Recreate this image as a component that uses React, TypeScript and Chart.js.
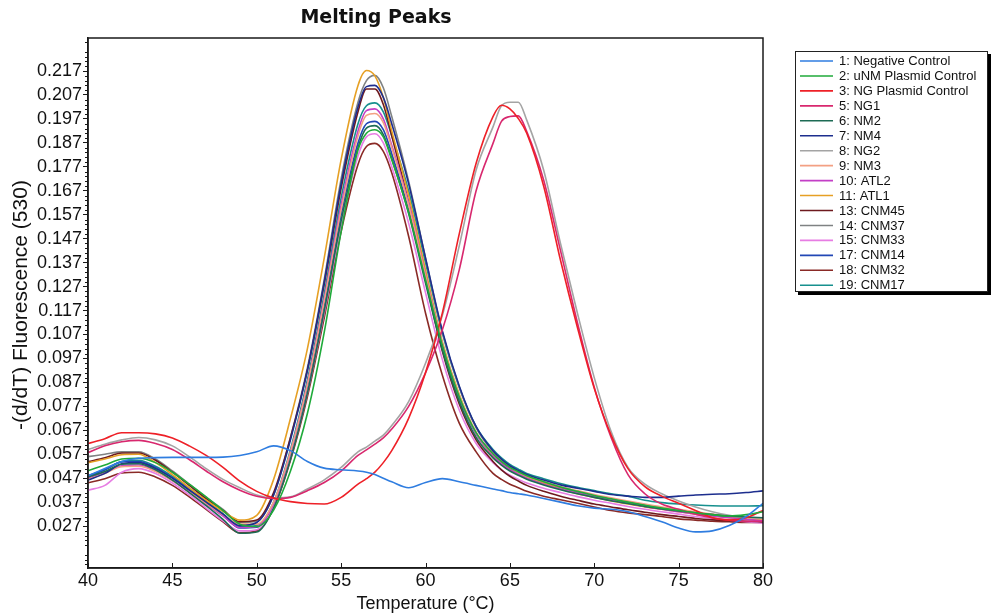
import React, { useEffect, useRef } from "react";
import { Chart, registerables } from "chart.js";
Chart.register(...registerables);

const TEMPS = [40, 41, 42, 43, 44, 45, 46, 47, 48, 49, 50, 51, 52, 53, 54, 55, 56, 56.5, 57, 57.5, 58, 59, 60, 61, 62, 63, 64, 64.5, 65, 65.5, 66, 67, 68, 69, 70, 71, 72, 73, 74, 75, 76, 77, 78, 79, 80];
const X_TICKS = [40, 45, 50, 55, 60, 65, 70, 75, 80];
const Y_TICKS = [0.027, 0.037, 0.047, 0.057, 0.067, 0.077, 0.087, 0.097, 0.107, 0.117, 0.127, 0.137, 0.147, 0.157, 0.167, 0.177, 0.187, 0.197, 0.207, 0.217];

const NEG_CONTROL = [0.0480, 0.0510, 0.0540, 0.0553, 0.0556, 0.0557, 0.0557, 0.0557, 0.0558, 0.0565,
  0.0580, 0.0605, 0.0585, 0.0540, 0.0512, 0.0505, 0.0500, 0.0495, 0.0485, 0.0470,
  0.0455, 0.0430, 0.0452, 0.0468, 0.0455, 0.0440, 0.0425, 0.0418, 0.0410, 0.0405,
  0.0400, 0.0385, 0.0370, 0.0355, 0.0345, 0.0340, 0.0330, 0.0310, 0.0288, 0.0262,
  0.0246, 0.0250, 0.0272, 0.0310, 0.0365];
const UNM_PLASMID = [0.0501, 0.0525, 0.0550, 0.0553, 0.0535, 0.0495, 0.0445, 0.0392, 0.0335, 0.0278,
  0.0268, 0.0337, 0.0500, 0.0740, 0.1080, 0.1500, 0.1840, 0.1910, 0.1925, 0.1895,
  0.1800, 0.1580, 0.1300, 0.1025, 0.0810, 0.0660, 0.0572, 0.0540, 0.0515, 0.0497,
  0.0480, 0.0455, 0.0433, 0.0415, 0.0398, 0.0384, 0.0370, 0.0357, 0.0345, 0.0335,
  0.0326, 0.0318, 0.0312, 0.0318, 0.0330];
const NG_PLASMID = [0.0615, 0.0635, 0.0660, 0.0660, 0.0655, 0.0638, 0.0605, 0.0565, 0.0515, 0.0458,
  0.0415, 0.0387, 0.0372, 0.0364, 0.0362, 0.0390, 0.0445, 0.0468, 0.0495, 0.0535,
  0.0585, 0.0720, 0.0910, 0.1160, 0.1490, 0.1785, 0.1980, 0.2027, 0.2012, 0.1972,
  0.1910, 0.1690, 0.1380, 0.1100, 0.0845, 0.0650, 0.0510, 0.0435, 0.0395, 0.0365,
  0.0335, 0.0305, 0.0295, 0.0305, 0.0335];
const NG1 = [0.0577, 0.0605, 0.0622, 0.0628, 0.0615, 0.0590, 0.0548, 0.0500, 0.0455, 0.0420,
  0.0395, 0.0385, 0.0390, 0.0418, 0.0452, 0.0500, 0.0565, 0.0588, 0.0612, 0.0638,
  0.0675, 0.0770, 0.0910, 0.1090, 0.1340, 0.1670, 0.1868, 0.1960, 0.1980, 0.1983,
  0.1917, 0.1715, 0.1420, 0.1120, 0.0850, 0.0640, 0.0485, 0.0405, 0.0362, 0.0340,
  0.0320, 0.0305, 0.0295, 0.0290, 0.0290];
const NM2 = [0.0475, 0.0498, 0.0528, 0.0530, 0.0505, 0.0462, 0.0410, 0.0355, 0.0298, 0.0240,
  0.0245, 0.0345, 0.0550, 0.0825, 0.1170, 0.1545, 0.1850, 0.1932, 0.1942, 0.1905,
  0.1805, 0.1575, 0.1285, 0.1005, 0.0790, 0.0640, 0.0555, 0.0525, 0.0500, 0.0482,
  0.0466, 0.0442, 0.0422, 0.0405, 0.0390, 0.0376, 0.0364, 0.0352, 0.0342, 0.0333,
  0.0325, 0.0318, 0.0312, 0.0308, 0.0305];
const NM4 = [0.0462, 0.0490, 0.0530, 0.0535, 0.0510, 0.0470, 0.0420, 0.0370, 0.0320, 0.0272,
  0.0285, 0.0400, 0.0630, 0.0920, 0.1290, 0.1700, 0.2020, 0.2105, 0.2110, 0.2060,
  0.1950, 0.1700, 0.1390, 0.1085, 0.0855, 0.0685, 0.0585, 0.0550, 0.0522, 0.0502,
  0.0485, 0.0462, 0.0442, 0.0428, 0.0415, 0.0402, 0.0395, 0.0390, 0.0390, 0.0395,
  0.0400, 0.0403, 0.0405, 0.0410, 0.0417];
const NG2 = [0.0590, 0.0612, 0.0630, 0.0640, 0.0630, 0.0605, 0.0560, 0.0510, 0.0465, 0.0430,
  0.0400, 0.0388, 0.0392, 0.0425, 0.0463, 0.0515, 0.0580, 0.0600, 0.0625, 0.0650,
  0.0690, 0.0790, 0.0950, 0.1150, 0.1440, 0.1757, 0.1937, 0.2025, 0.2040, 0.2040,
  0.1965, 0.1757, 0.1450, 0.1160, 0.0890, 0.0665, 0.0515, 0.0445, 0.0405, 0.0375,
  0.0350, 0.0330, 0.0315, 0.0305, 0.0305];
const NM3 = [0.0465, 0.0490, 0.0518, 0.0520, 0.0498, 0.0460, 0.0413, 0.0365, 0.0318, 0.0278,
  0.0278, 0.0370, 0.0580, 0.0860, 0.1210, 0.1590, 0.1900, 0.1985, 0.1993, 0.1955,
  0.1850, 0.1610, 0.1315, 0.1030, 0.0815, 0.0660, 0.0572, 0.0540, 0.0515, 0.0495,
  0.0478, 0.0455, 0.0435, 0.0418, 0.0402, 0.0388, 0.0375, 0.0362, 0.0350, 0.0340,
  0.0330, 0.0320, 0.0312, 0.0305, 0.0300];
const ATL2 = [0.0470, 0.0495, 0.0522, 0.0525, 0.0500, 0.0460, 0.0412, 0.0362, 0.0312, 0.0264,
  0.0268, 0.0365, 0.0580, 0.0865, 0.1220, 0.1610, 0.1920, 0.2005, 0.2012, 0.1970,
  0.1860, 0.1620, 0.1320, 0.1030, 0.0810, 0.0655, 0.0565, 0.0530, 0.0505, 0.0488,
  0.0470, 0.0445, 0.0425, 0.0408, 0.0392, 0.0378, 0.0365, 0.0352, 0.0340, 0.0330,
  0.0320, 0.0312, 0.0305, 0.0298, 0.0292];
const ATL1 = [0.0535, 0.0550, 0.0568, 0.0570, 0.0535, 0.0485, 0.0430, 0.0378, 0.0332, 0.0295,
  0.0315, 0.0465, 0.0720, 0.1010, 0.1390, 0.1800, 0.2110, 0.2172, 0.2150, 0.2060,
  0.1920, 0.1650, 0.1340, 0.1040, 0.0820, 0.0660, 0.0560, 0.0530, 0.0505, 0.0488,
  0.0475, 0.0450, 0.0425, 0.0405, 0.0390, 0.0375, 0.0362, 0.0350, 0.0340, 0.0330,
  0.0320, 0.0312, 0.0305, 0.0300, 0.0298];
const CNM45 = [0.0539, 0.0555, 0.0575, 0.0575, 0.0545, 0.0495, 0.0440, 0.0385, 0.0335, 0.0288,
  0.0295, 0.0410, 0.0640, 0.0920, 0.1280, 0.1680, 0.2000, 0.2095, 0.2095, 0.2030,
  0.1900, 0.1620, 0.1300, 0.1000, 0.0780, 0.0630, 0.0540, 0.0505, 0.0478, 0.0458,
  0.0440, 0.0415, 0.0395, 0.0378, 0.0362, 0.0350, 0.0338, 0.0328, 0.0318, 0.0310,
  0.0302, 0.0296, 0.0292, 0.0290, 0.0288];
const CNM37 = [0.0560, 0.0570, 0.0580, 0.0580, 0.0550, 0.0500, 0.0445, 0.0390, 0.0340, 0.0285,
  0.0290, 0.0400, 0.0640, 0.0930, 0.1300, 0.1720, 0.2040, 0.2130, 0.2152, 0.2100,
  0.1980, 0.1710, 0.1390, 0.1080, 0.0850, 0.0680, 0.0580, 0.0545, 0.0515, 0.0495,
  0.0478, 0.0455, 0.0430, 0.0410, 0.0395, 0.0380, 0.0368, 0.0355, 0.0345, 0.0335,
  0.0325, 0.0318, 0.0310, 0.0305, 0.0300];
const CNM33 = [0.0420, 0.0440, 0.0495, 0.0510, 0.0490, 0.0450, 0.0400, 0.0345, 0.0292, 0.0250,
  0.0255, 0.0350, 0.0555, 0.0825, 0.1160, 0.1525, 0.1815, 0.1895, 0.1908, 0.1870,
  0.1770, 0.1535, 0.1245, 0.0965, 0.0755, 0.0615, 0.0535, 0.0505, 0.0482, 0.0465,
  0.0450, 0.0428, 0.0410, 0.0393, 0.0378, 0.0365, 0.0352, 0.0340, 0.0330, 0.0320,
  0.0310, 0.0302, 0.0295, 0.0288, 0.0282];
const CNM14 = [0.0480, 0.0505, 0.0538, 0.0540, 0.0515, 0.0472, 0.0422, 0.0370, 0.0316, 0.0262,
  0.0265, 0.0365, 0.0575, 0.0850, 0.1195, 0.1570, 0.1870, 0.1950, 0.1960, 0.1925,
  0.1825, 0.1590, 0.1300, 0.1020, 0.0805, 0.0655, 0.0568, 0.0535, 0.0510, 0.0492,
  0.0475, 0.0450, 0.0430, 0.0412, 0.0397, 0.0383, 0.0370, 0.0358, 0.0346, 0.0336,
  0.0326, 0.0318, 0.0310, 0.0305, 0.0300];
const CNM32 = [0.0451, 0.0468, 0.0492, 0.0495, 0.0475, 0.0440, 0.0392, 0.0340, 0.0288, 0.0242,
  0.0250, 0.0345, 0.0545, 0.0810, 0.1140, 0.1500, 0.1780, 0.1855, 0.1868, 0.1835,
  0.1745, 0.1480, 0.1160, 0.0900, 0.0700, 0.0580, 0.0490, 0.0465, 0.0445, 0.0430,
  0.0415, 0.0395, 0.0380, 0.0365, 0.0350, 0.0335, 0.0325, 0.0318, 0.0310, 0.0300,
  0.0295, 0.0290, 0.0288, 0.0285, 0.0285];
const CNM17 = [0.0478, 0.0505, 0.0540, 0.0545, 0.0520, 0.0478, 0.0428, 0.0375, 0.0322, 0.0268,
  0.0272, 0.0370, 0.0590, 0.0880, 0.1240, 0.1640, 0.1950, 0.2025, 0.2037, 0.2000,
  0.1900, 0.1670, 0.1370, 0.1075, 0.0850, 0.0685, 0.0590, 0.0555, 0.0528, 0.0508,
  0.0490, 0.0468, 0.0448, 0.0432, 0.0418, 0.0405, 0.0395, 0.0378, 0.0368, 0.0362,
  0.0358, 0.0355, 0.0354, 0.0354, 0.0355];

const SERIES_LABELS = ["1: Negative Control", "2: uNM Plasmid Control", "3: NG Plasmid Control", "5: NG1", "6: NM2", "7: NM4", "8: NG2", "9: NM3", "10: ATL2", "11: ATL1", "13: CNM45", "14: CNM37", "15: CNM33", "17: CNM14", "18: CNM32", "19: CNM17"];
const SERIES_VALUES = [NEG_CONTROL, UNM_PLASMID, NG_PLASMID, NG1, NM2, NM4, NG2, NM3, ATL2, ATL1, CNM45, CNM37, CNM33, CNM14, CNM32, CNM17];
const SERIES_COLORS = ["#2f7de0", "#1faa3a", "#ee2027", "#d8286e", "#1d6b55", "#1d2e8e", "#a4a4a4", "#f3a083", "#c33fc6", "#e6a024", "#6e1a1e", "#7f8283", "#e77de3", "#2247b5", "#8a2a26", "#17908e"];

const FONT = '"Liberation Sans", Arial, sans-serif';

const decor = {
  id: "decor",
  afterDraw(chart: any) {
    const ctx = chart.ctx;
    const a = chart.chartArea;
    const ys = chart.scales.y;
    const xs = chart.scales.x;
    ctx.save();
    ctx.strokeStyle = "#1a1a1a";
    ctx.lineWidth = 1.5;
    ctx.strokeRect(a.left, a.top, a.right - a.left, a.bottom - a.top);
    // y minor ticks
    ctx.lineWidth = 1;
    for (let n = -8; n <= 102; n++) {
      if (n % 5 === 0) continue;
      const v = 0.027 + n * 0.002;
      if (v < ys.min || v > ys.max) continue;
      const py = Math.round(ys.getPixelForValue(v)) + 0.5;
      ctx.beginPath();
      ctx.moveTo(a.left - 3, py);
      ctx.lineTo(a.left, py);
      ctx.stroke();
    }
    // x ticks (inside)
    for (const t of X_TICKS) {
      const px = Math.round(xs.getPixelForValue(t)) + 0.5;
      ctx.beginPath();
      ctx.moveTo(px, a.bottom);
      ctx.lineTo(px, a.bottom - 5);
      ctx.stroke();
    }
    // title
    ctx.fillStyle = "#111";
    ctx.font = 'bold 19px "DejaVu Sans", sans-serif';
    ctx.textAlign = "center";
    ctx.textBaseline = "middle";
    ctx.fillText("Melting Peaks", 376, 18);
    // axis titles
    ctx.font = "18px " + FONT;
    ctx.fillText("Temperature (°C)", (a.left + a.right) / 2, 604);
    ctx.save();
    ctx.translate(21, 305);
    ctx.rotate(-Math.PI / 2);
    ctx.font = "21px " + FONT;
    ctx.fillText("-(d/dT) Fluorescence (530)", 0, 0);
    ctx.restore();
    // legend
    const lx = 795, ly = 51, lw = 192, lh = 240;
    ctx.fillStyle = "#000";
    ctx.fillRect(lx + 3, ly + 3, lw + 1, lh + 1);
    ctx.fillStyle = "#fff";
    ctx.fillRect(lx, ly, lw, lh);
    ctx.strokeStyle = "#222";
    ctx.lineWidth = 1;
    ctx.strokeRect(lx + 0.5, ly + 0.5, lw, lh);
    ctx.font = "13px " + FONT;
    ctx.textAlign = "left";
    for (let i = 0; i < SERIES_LABELS.length; i++) {
      const y = 61 + i * 14.95;
      ctx.strokeStyle = SERIES_COLORS[i];
      ctx.lineWidth = 1.6;
      ctx.beginPath();
      ctx.moveTo(800, y);
      ctx.lineTo(833, y);
      ctx.stroke();
      ctx.fillStyle = "#111";
      ctx.fillText(SERIES_LABELS[i], 839, y + 0.5);
    }
    ctx.restore();
  },
};

export default function App() {
  const ref = useRef<HTMLCanvasElement>(null);
  useEffect(() => {
    const canvas = ref.current!;
    const chart = new Chart(canvas, {
      type: "line",
      data: {
        datasets: SERIES_VALUES.map((vals, i) => ({
          label: SERIES_LABELS[i],
          data: TEMPS.map((t, j) => ({ x: t, y: vals[j] })),
          borderColor: SERIES_COLORS[i],
          backgroundColor: SERIES_COLORS[i],
          borderWidth: 1.6,
          pointRadius: 0,
          fill: false,
          cubicInterpolationMode: "monotone" as const,
        })),
      },
      options: {
        animation: false,
        responsive: false,
        devicePixelRatio: 1,
        layout: { padding: { top: 38, right: 233, left: 0, bottom: 0 } },
        plugins: { legend: { display: false }, title: { display: false }, tooltip: { enabled: false } },
        scales: {
          x: {
            type: "linear",
            min: 40,
            max: 80,
            afterBuildTicks: (s: any) => { s.ticks = X_TICKS.map((v) => ({ value: v })); },
            afterFit: (s: any) => { s.height = 47; },
            grid: { display: false },
            border: { display: true, color: "#1a1a1a", width: 1.5 },
            ticks: { color: "#111", font: { family: FONT, size: 18 }, padding: -6, maxRotation: 0, callback: (v: any) => String(v) },
          },
          y: {
            type: "linear",
            min: 0.0095,
            max: 0.2308,
            afterBuildTicks: (s: any) => { s.ticks = Y_TICKS.map((v) => ({ value: v })); },
            afterFit: (s: any) => { s.width = 88; },
            grid: { display: true, drawOnChartArea: false, tickLength: 5, color: "#1a1a1a" },
            border: { display: true, color: "#1a1a1a", width: 1.5 },
            ticks: { color: "#111", font: { family: FONT, size: 18 }, padding: 1, callback: (v: any) => Number(v).toFixed(3) },
          },
        },
      },
      plugins: [decor],
    });
    return () => chart.destroy();
  }, []);
  return (
    <div style={{ position: "absolute", left: 0, top: 0, width: 996, height: 615, background: "#fff" }}>
      <canvas ref={ref} width={996} height={615} style={{ width: 996, height: 615 }} />
    </div>
  );
}
